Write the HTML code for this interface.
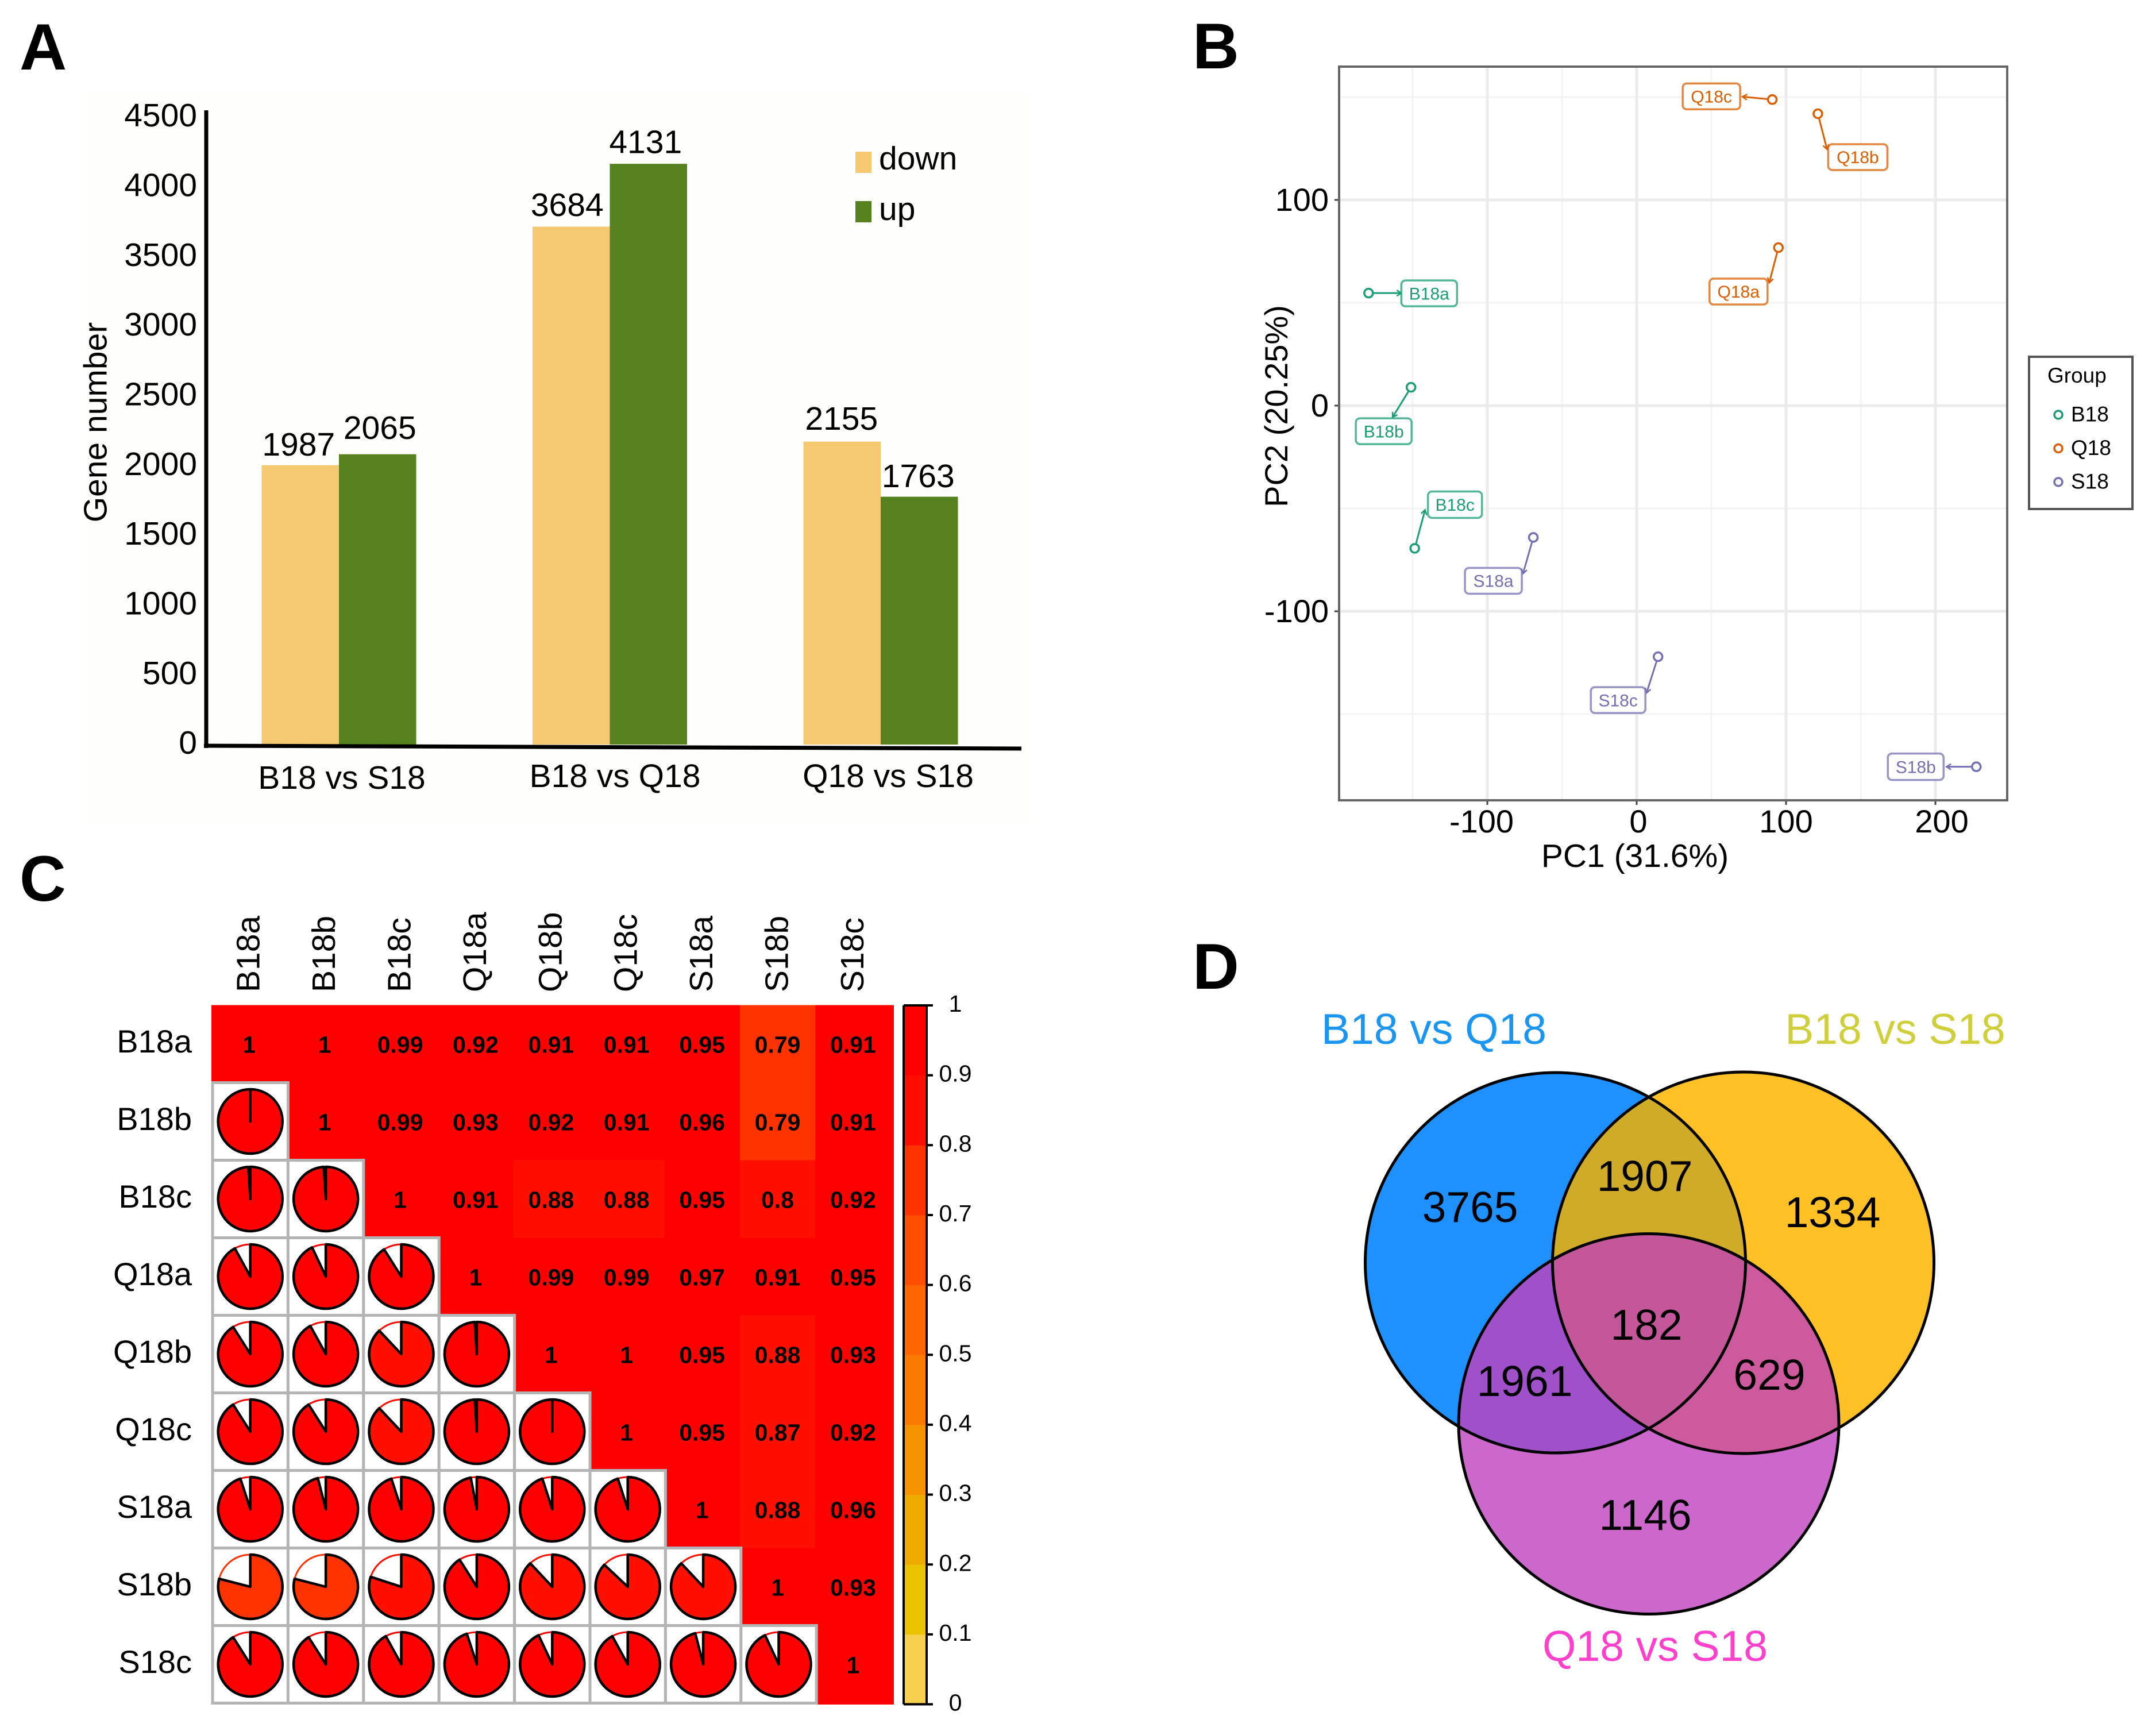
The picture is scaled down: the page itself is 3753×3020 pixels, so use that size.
<!DOCTYPE html>
<html lang="en">
<head>
<meta charset="utf-8">
<title>Transcriptome comparison figure</title>
<style>
html,body{margin:0;padding:0;background:#fff;}
svg{display:block;font-family:"Liberation Sans",Arial,sans-serif;}
</style>
</head>
<body>
<svg id="figure" xmlns="http://www.w3.org/2000/svg" width="3753" height="3020" viewBox="0 0 3753 3020">
  <rect x="0" y="0" width="3753" height="3020" fill="#ffffff"/>
  <text x="34" y="121" font-size="114" font-weight="bold">A</text>
  <text x="2076" y="119" font-size="112" font-weight="bold">B</text>
  <text x="34" y="1568" font-size="112" font-weight="bold">C</text>
  <text x="2076" y="1721" font-size="112" font-weight="bold">D</text>

  <g id="panelA">
    <rect x="150" y="160" width="1640" height="1270" fill="#fefefc"/>
  </g>
  <g id="panelB"></g>
  <g id="panelC"></g>

  <g id="panelD">
    <defs>
      <clipPath id="clipBlue"><circle cx="2707.5" cy="2198" r="331"/></clipPath>
      <clipPath id="clipYellow"><circle cx="3034.5" cy="2198" r="332"/></clipPath>
      <clipPath id="clipMagenta"><circle cx="2870" cy="2478.5" r="331"/></clipPath>
    </defs>
    <circle cx="2707.5" cy="2198" r="331" fill="#1E90FF"/>
    <circle cx="3034.5" cy="2198" r="332" fill="#FFC125"/>
    <circle cx="3034.5" cy="2198" r="332" fill="#CFAB27" clip-path="url(#clipBlue)"/>
    <circle cx="2870" cy="2478.5" r="331" fill="#CC68CC"/>
    <circle cx="2707.5" cy="2198" r="331" fill="#A050C8" clip-path="url(#clipMagenta)"/>
    <circle cx="3034.5" cy="2198" r="332" fill="#CC5A9C" clip-path="url(#clipMagenta)"/>
    <g clip-path="url(#clipBlue)">
      <circle cx="3034.5" cy="2198" r="332" fill="#C3579A" clip-path="url(#clipMagenta)"/>
    </g>
    <circle cx="2707.5" cy="2198" r="331" fill="none" stroke="#000" stroke-width="5"/>
    <circle cx="3034.5" cy="2198" r="332" fill="none" stroke="#000" stroke-width="5"/>
    <circle cx="2870" cy="2478.5" r="331" fill="none" stroke="#000" stroke-width="5"/>
    <g font-size="75" text-anchor="middle" fill="#000">
      <text x="2559" y="2127">3765</text>
      <text x="2863" y="2073">1907</text>
      <text x="3190" y="2136">1334</text>
      <text x="2866" y="2332">182</text>
      <text x="2654" y="2430">1961</text>
      <text x="3080" y="2419">629</text>
      <text x="2864" y="2663">1146</text>
    </g>
    <g font-size="75" text-anchor="middle">
      <text x="2496" y="1817" fill="#1A96F2">B18 vs Q18</text>
      <text x="3299" y="1817" fill="#CFCF3C">B18 vs S18</text>
      <text x="2881" y="2891" fill="#FF40CC">Q18 vs S18</text>
    </g>
  </g>
</svg>

<script>
/* ---------- Panel A data ---------- */
const barCategories = ["B18 vs S18", "B18 vs Q18", "Q18 vs S18"];
const downValues = [1987, 3684, 2155];
const upValues = [2065, 4131, 1763];
const barYTicks = [0, 500, 1000, 1500, 2000, 2500, 3000, 3500, 4000, 4500];

/* ---------- Panel B data ---------- */
const sampleNames = ["B18a", "B18b", "B18c", "Q18a", "Q18b", "Q18c", "S18a", "S18b", "S18c"];
const sampleGroups = ["B18", "B18", "B18", "Q18", "Q18", "Q18", "S18", "S18", "S18"];
const pc1Values = [-179.5, -151.1, -148.6, 94.9, 121.3, 90.8, -69.2, 227.4, 14.3];
const pc2Values = [54.7, 8.9, -69.4, 76.8, 141.9, 148.8, -64.1, -175.6, -122.1];
const pc1Ticks = [-100, 0, 100, 200];
const pc2Ticks = [100, 0, -100];
const pc1MinorTicks = [-150, -50, 50, 150];
const pc2MinorTicks = [150, 50, -50, -150];
const groupNames = ["B18", "Q18", "S18"];

/* ---------- Panel C data ---------- */
const corrLabels = ["B18a", "B18b", "B18c", "Q18a", "Q18b", "Q18c", "S18a", "S18b", "S18c"];
const corrRowB18a = [1, 1, 0.99, 0.92, 0.91, 0.91, 0.95, 0.79, 0.91];
const corrRowB18b = [1, 0.99, 0.93, 0.92, 0.91, 0.96, 0.79, 0.91];
const corrRowB18c = [1, 0.91, 0.88, 0.88, 0.95, 0.8, 0.92];
const corrRowQ18a = [1, 0.99, 0.99, 0.97, 0.91, 0.95];
const corrRowQ18b = [1, 1, 0.95, 0.88, 0.93];
const corrRowQ18c = [1, 0.95, 0.87, 0.92];
const corrRowS18a = [1, 0.88, 0.96];
const corrRowS18b = [1, 0.93];
const corrRowS18c = [1];
const colorbarTicks = [0, 0.1, 0.2, 0.3, 0.4, 0.5, 0.6, 0.7, 0.8, 0.9, 1];

/* ---------- Styling and layout (not data) ---------- */
const groupColors = {B18: "#1B9E77", Q18: "#D95F02", S18: "#7570B3"};
const binColors = ["#F8D04F", "#ECC300", "#EEAC00", "#F59300", "#FB7B00", "#FF6600", "#FF4E00", "#FF3300", "#FF0F00", "#FF0000"];
/* repel-label placement relative to each point: dx, dy, width, height, arrow-end dx, arrow-end dy */
const labelLayout = [
  [57, -22, 97, 45, 57, 0],
  [-96, 54, 97, 45, -32, 52],
  [23, -99, 94, 46, 18, -67],
  [-120, 54, 101, 45, -16, 61],
  [18, 53, 103, 45, 16, 62],
  [-156, -28, 100, 45, -52, -5],
  [-119, 53, 99, 45, -18, 63],
  [-154, -23, 97, 46, -52, 0],
  [-117, 53, 95, 45, -20, 63]
];
/* hand-placed nudges of printed bar values, px */
const downLabelNudge = [[0, 0], [-4, -2], [2, -4]];
const upLabelNudge = [[2, -10], [-7, -2], [-4, 0]];

const SVG_NS = "http://www.w3.org/2000/svg";
function make(tag, parent, attrs) {
  const node = document.createElementNS(SVG_NS, tag);
  for (const key in attrs) node.setAttribute(key, attrs[key]);
  parent.appendChild(node);
  return node;
}
function write(parent, str, x, y, size, anchor, extra) {
  const node = make("text", parent, Object.assign({x: x, y: y + size * 0.355, "font-size": size, "text-anchor": anchor || "middle"}, extra || {}));
  node.textContent = str;
  return node;
}

/* ---------- Panel A: bars ---------- */
(function () {
  const g = document.getElementById("panelA");
  const baseY = 1296;
  const unit = 0.2447;
  const yA = function (v) { return baseY - v * unit; };
  const yTickLabel = function (v) { return 1292 - v * 0.2427; };
  const groupX = function (i) { return 455.5 + i * 471.5; };
  const barW = 134.5;

  barCategories.forEach(function (cat, i) {
    const d = make("rect", g, {x: groupX(i), y: yA(downValues[i]), width: barW, height: baseY - yA(downValues[i]), fill: "#F4C972"});
    
    
    const u = make("rect", g, {x: groupX(i) + barW, y: yA(upValues[i]), width: barW, height: baseY - yA(upValues[i]), fill: "#55811E"});
    
    
    const dl = write(g, String(downValues[i]), groupX(i) + barW / 2 - 3 + downLabelNudge[i][0], yA(downValues[i]) - 37 + downLabelNudge[i][1], 57);
    
    
    const ul = write(g, String(upValues[i]), groupX(i) + barW * 1.5 + 2 + upLabelNudge[i][0], yA(upValues[i]) - 37 + upLabelNudge[i][1], 57);
    
    
    const cl = write(g, cat, 595 + i * 475.5, i === 0 ? 1353 : 1350, 57);
    
    
  });

  barYTicks.forEach(function (t) {
    const lab = write(g, String(t), 343, yTickLabel(t), 57, "end");
    
    
  });

  const ya = make("line", g, {x1: 359, y1: 192, x2: 359, y2: 1302, stroke: "#000", "stroke-width": 7});
  
  
  const xa = make("line", g, {x1: 355, y1: 1298, x2: 1778, y2: 1303, stroke: "#000", "stroke-width": 7});
  
  

  const yt = write(g, "Gene number", 0, 0, 57, "middle", {transform: "translate(165 735) rotate(-90)"});
  
  

  const s1 = make("rect", g, {x: 1489, y: 264, width: 28, height: 37, fill: "#F4C972"});
  
  
  const t1 = write(g, "down", 1530, 275, 57, "start");
  
  
  const s2 = make("rect", g, {x: 1489, y: 350, width: 28, height: 37, fill: "#55811E"});
  
  
  const t2 = write(g, "up", 1530, 363, 57, "start");
  
  
})();

/* ---------- Panel B: PCA scatter ---------- */
(function () {
  const g = document.getElementById("panelB");
  const L = 2331, R = 3494, T = 116, B = 1393;
  const xB = function (v) { return 2849 + v * 2.6; };
  const yB = function (v) { return 706 - v * 3.58; };

  pc1MinorTicks.forEach(function (t) {
    const m = make("line", g, {x1: xB(t), y1: T, x2: xB(t), y2: B, stroke: "#F3F3F3", "stroke-width": 3});
    
    
  });
  pc2MinorTicks.forEach(function (t) {
    const m = make("line", g, {x1: L, y1: yB(t), x2: R, y2: yB(t), stroke: "#F3F3F3", "stroke-width": 3});
    
    
  });
  pc1Ticks.forEach(function (t) {
    const m = make("line", g, {x1: xB(t), y1: T, x2: xB(t), y2: B, stroke: "#EBEBEB", "stroke-width": 5});
    
    
    const k = make("line", g, {x1: xB(t), y1: B, x2: xB(t), y2: B + 8, stroke: "#444", "stroke-width": 3});
    
    
    const nudge = t < 0 ? -10 : (t === 200 ? 11 : (t === 0 ? 3 : 0));
    const lab = write(g, String(t), xB(t) + nudge, 1429, 56);
    
    
  });
  pc2Ticks.forEach(function (t) {
    const m = make("line", g, {x1: L, y1: yB(t), x2: R, y2: yB(t), stroke: "#EBEBEB", "stroke-width": 5});
    
    
    const k = make("line", g, {x1: L - 8, y1: yB(t), x2: L, y2: yB(t), stroke: "#444", "stroke-width": 3});
    
    
    const lab = write(g, String(t), 2313, yB(t) - 1, 56, "end");
    
    
  });

  const frame = make("rect", g, {x: L, y: T, width: R - L, height: B - T, fill: "none", stroke: "#666", "stroke-width": 4});
  
  

  sampleNames.forEach(function (name, i) {
    const c = groupColors[sampleGroups[i]];
    const px = xB(pc1Values[i]), py = yB(pc2Values[i]);
    const lay = labelLayout[i];
    const ax = px + lay[4], ay = py + lay[5];
    const len = Math.hypot(lay[4], lay[5]);
    const ux = lay[4] / len, uy = lay[5] / len;

    const ln = make("line", g, {x1: px + ux * 9, y1: py + uy * 9, x2: ax, y2: ay, stroke: c, "stroke-width": 3});
    
    
    const head = make("path", g, {d: "M" + (ax - ux * 8 - uy * 5) + " " + (ay - uy * 8 + ux * 5) + " L" + ax + " " + ay + " L" + (ax - ux * 8 + uy * 5) + " " + (ay - uy * 8 - ux * 5), fill: "none", stroke: c, "stroke-width": 2.5});
    
    

    const box = make("rect", g, {x: px + lay[0], y: py + lay[1], width: lay[2], height: lay[3], rx: 7, fill: "#fff", stroke: c, "stroke-opacity": 0.75, "stroke-width": 3.5});
    
    
    const txt = write(g, name, px + lay[0] + lay[2] / 2, py + lay[1] + lay[3] / 2, 30, "middle", {fill: c});
    
    

    const pt = make("circle", g, {cx: px, cy: py, r: 7.5, fill: "none", stroke: c, "stroke-width": 3.5});
    
    
  });

  const xt = write(g, "PC1 (31.6%)", 2846, 1489, 57);
  
  
  const yt = write(g, "PC2 (20.25%)", 0, 0, 56, "middle", {transform: "translate(2221 707) rotate(-90)"});
  
  

  const lb = make("rect", g, {x: 3532, y: 621, width: 180, height: 265, fill: "#fff", stroke: "#555", "stroke-width": 4});
  
  
  const lt = write(g, "Group", 3564, 653, 37, "start");
  
  
  groupNames.forEach(function (name, i) {
    const y = 722 + i * 58.5;
    const dot = make("circle", g, {cx: 3583, cy: y, r: 7, fill: "none", stroke: groupColors[name], "stroke-width": 3.5});
    
    
    const tx = write(g, name, 3605, y - 1.5, 37, "start");
    
    
  });
})();

/* ---------- Panel C: correlation matrix ---------- */
(function () {
  const g = document.getElementById("panelC");
  const upper = [corrRowB18a, corrRowB18b, corrRowB18c, corrRowQ18a, corrRowQ18b, corrRowQ18c, corrRowS18a, corrRowS18b, corrRowS18c];
  const X0 = 368, Y0 = 1749.5, CW = 131.4, CH = 135.0;
  const RIGHT = 1556, BOTTOM = 2967;
  const n = corrLabels.length;
  const corr = function (r, c) { return r <= c ? upper[r][c - r] : upper[c][r - c]; };
  const binColor = function (v) { return binColors[Math.max(0, Math.min(9, Math.floor(v * 10 + 1e-9)))]; };

  /* upper-triangle colored cells first */
  for (let r = 0; r < n; r++) {
    for (let c = r; c < n; c++) {
      const cx0 = X0 + c * CW, cy0 = Y0 + r * CH;
      const w = c === n - 1 ? RIGHT - cx0 : CW + 0.5;
      const h = r === n - 1 ? BOTTOM - cy0 : CH + 0.5;
      const cell = make("rect", g, {x: cx0, y: cy0, width: w, height: h, fill: binColor(corr(r, c))});
      
      
    }
  }
  for (let r = 0; r < n; r++) {
    for (let c = r; c < n; c++) {
      const v = corr(r, c);
      const t = write(g, String(v), X0 + (c + 0.5) * CW, Y0 + (r + 0.5) * CH + 1, 41, "middle", {"font-weight": "bold", fill: "#000"});
      
      
    }
  }
  /* lower-triangle pies */
  for (let r = 1; r < n; r++) {
    for (let c = 0; c < r; c++) {
      const v = corr(r, c);
      const col = binColor(v);
      const bx = X0 + c * CW + 2, by = Y0 + r * CH;
      const cx = X0 + (c + 0.5) * CW + 2, cy = Y0 + (r + 0.5) * CH;
      const rad = 56;
      const bg = make("rect", g, {x: bx, y: by, width: CW, height: CH, fill: "#fff", stroke: "#B4B4B4", "stroke-width": 5});
      
      
      const ring = make("circle", g, {cx: cx, cy: cy, r: rad, fill: "#fff", stroke: col, "stroke-width": 3});
      
      
      const frac = Math.min(v, 0.9995);
      const ang = frac * 2 * Math.PI;
      const ex = cx + rad * Math.sin(ang), ey = cy - rad * Math.cos(ang);
      const large = frac > 0.5 ? 1 : 0;
      const sector = make("path", g, {d: "M" + cx + " " + cy + " L" + cx + " " + (cy - rad) + " A" + rad + " " + rad + " 0 " + large + " 1 " + ex + " " + ey + " Z", fill: col, stroke: "#000", "stroke-width": 4.5, "stroke-linejoin": "round"});
      
      
    }
  }
  /* row and column labels */
  corrLabels.forEach(function (name, i) {
    const rowLab = write(g, name, 334, Y0 + (i + 0.5) * CH - 5, 56, "end");
    
    
    const colLab = make("text", g, {"font-size": 57, transform: "translate(" + (X0 + (i + 0.5) * CW + 18) + " 1727) rotate(-90)"});
    colLab.textContent = name;
    
    
  });

  /* colorbar */
  const BL = 1573, BR = 1613, BB = 2966.5, BT = 1750;
  const yC = function (v) { return BB - v * (BB - BT); };
  binColors.forEach(function (col, i) {
    const seg = make("rect", g, {x: BL, y: yC((i + 1) / 10), width: BR - BL, height: yC(i / 10) - yC((i + 1) / 10) + 0.5, fill: col});
    
    
  });
  const leftEdge = make("line", g, {x1: BL, y1: BT, x2: BL, y2: BB, stroke: "#000", "stroke-width": 4});
  
  
  const rightEdge = make("line", g, {x1: BR, y1: BT, x2: BR, y2: BB, stroke: "#000", "stroke-width": 4});
  
  
  colorbarTicks.forEach(function (t) {
    const isEnd = t === 0 || t === 1;
    const k = make("line", g, {x1: isEnd ? BL : BR, y1: yC(t), x2: 1624, y2: yC(t), stroke: "#000", "stroke-width": 4});
    
    
    const lab = write(g, String(t), 1663, yC(t) - 3.5, 41);
    
    
  });
})();
</script>
</body>
</html>
